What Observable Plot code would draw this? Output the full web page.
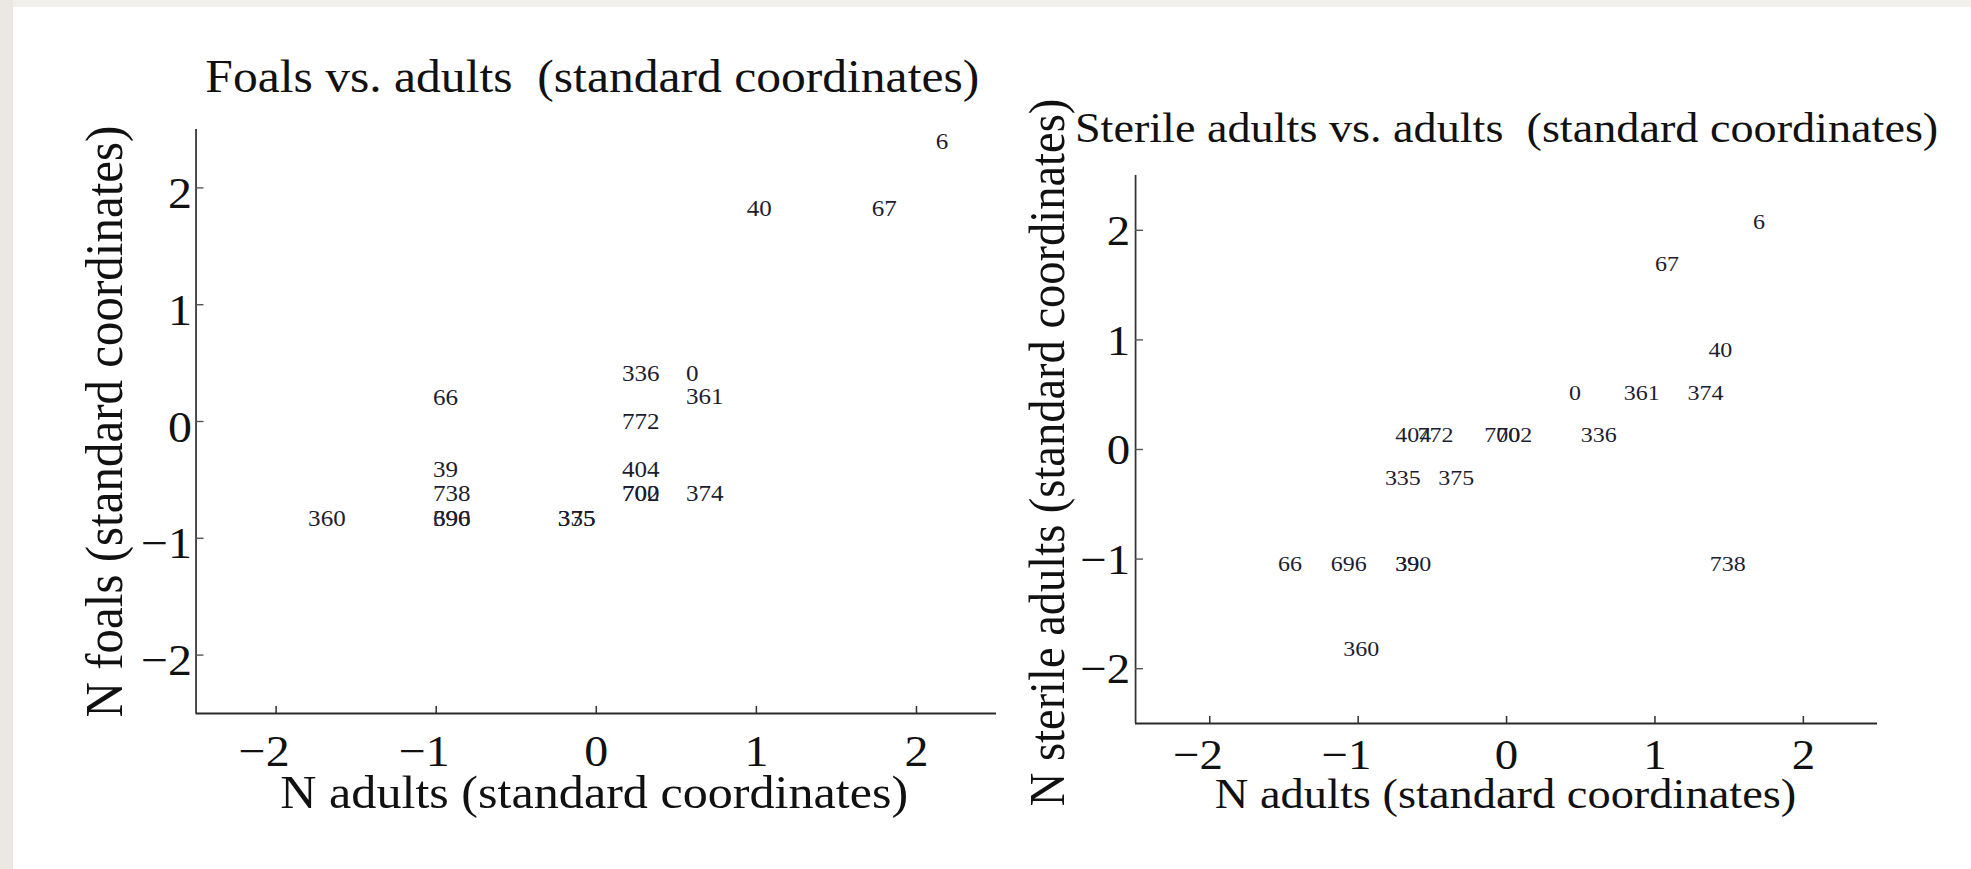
<!DOCTYPE html>
<html>
<head>
<meta charset="utf-8">
<script src="https://cdn.jsdelivr.net/npm/d3@7"></script>
<script src="https://cdn.jsdelivr.net/npm/@observablehq/plot@0.6"></script>
<style>
  html, body { margin: 0; padding: 0; background: #ffffff; width: 1971px; height: 869px; overflow: hidden; }
  #stripTop { position: absolute; left: 0; top: 0; width: 1971px; height: 7px; background: #f1efe9; }
  #stripLeft { position: absolute; left: 0; top: 0; width: 13px; height: 869px; background: #ebe8e3; }
  #stage { position: absolute; left: 0; top: 0; height: 869px; transform-origin: 0 0; }
  #stage svg { position: absolute; top: 0; }
</style>
</head>
<body>
<div id="stripTop"></div>
<div id="stripLeft"></div>
<div id="stage"></div>
<script>
// ---- data ----
const ids = [0, 6, 39, 40, 66, 67, 335, 336, 360, 361, 374, 375, 390, 404, 696, 700, 702, 738, 772];

// Panel 1: foals vs adults (standard coordinates)
const foalsAdultsX = [0.56, 2.12, -1.02, 0.94, -1.02, 1.72, -0.24, 0.16, -1.80, 0.56, 0.56, -0.24, -1.02, 0.16, -1.02, 0.16, 0.16, -1.02, 0.16];
const foalsY       = [0.41, 2.40, -0.41, 1.82, 0.20, 1.82, -0.83, 0.41, -0.83, 0.21, -0.62, -0.83, -0.83, -0.41, -0.83, -0.62, -0.62, -0.62, 0.00];

// Panel 2: sterile adults vs adults (standard coordinates)
const sterileAdultsX = [0.42, 1.66, -0.75, 1.36, -1.54, 1.00, -0.82, 0.50, -1.10, 0.79, 1.22, -0.46, -0.75, -0.75, -1.185, -0.15, -0.07, 1.37, -0.60];
const sterileY       = [0.52, 2.08, -1.04, 0.91, -1.04, 1.69, -0.26, 0.13, -1.82, 0.52, 0.52, -0.26, -1.04, 0.13, -1.04, 0.13, 0.13, -1.04, 0.13];

const axisDomain = [-2.5, 2.5];
const xTicks = [-2, -1, 0, 1, 2];
const yTicks = [-2, -1, 0, 1, 2];

const title1 = "Foals vs. adults \u00a0(standard coordinates)";
const title2 = "Sterile adults vs. adults \u00a0(standard coordinates)";
const xLabel1 = "N adults (standard coordinates)";
const yLabel1 = "N foals (standard coordinates)";
const xLabel2 = "N adults (standard coordinates)";
const yLabel2 = "N sterile adults (standard coordinates)";

// ---- layout ----
const SX = 1.09; // the reference is slightly stretched horizontally
const stage = document.getElementById("stage");
stage.style.width = (1971 / SX) + "px";
stage.style.transform = `scaleX(${SX})`;

const fmtX = d => d < 0 ? "\u2212" + (-d) + "\u2002" : String(d);
const fmtY = d => d < 0 ? "\u2212" + (-d) : String(d);

function panel(cfg) {
  const rows = ids.map((id, i) => ({id, x: cfg.xs[i], y: cfg.ys[i]}));
  return Plot.plot({
    width: cfg.width, height: 869,
    marginLeft: cfg.ml, marginRight: cfg.mr, marginTop: cfg.mt, marginBottom: cfg.mb,
    style: {fontFamily: "'Liberation Serif', 'Times New Roman', serif", background: "transparent", maxWidth: "none", color: "#111"},
    x: {domain: axisDomain},
    y: {domain: axisDomain},
    marks: [
      Plot.ruleY([axisDomain[0]], {stroke: "#2a2a2a", strokeWidth: 2}),
      Plot.ruleX([axisDomain[0]], {stroke: "#333", strokeWidth: 1.6}),
      Plot.axisX({ticks: xTicks, label: null, tickSize: -7, tickFormat: () => "", stroke: "#333", strokeWidth: 1.4}),
      Plot.axisY({ticks: yTicks, label: null, tickSize: -8 / SX, tickFormat: () => "", stroke: "#555", strokeWidth: 1.4}),
      Plot.axisX({ticks: xTicks, label: null, tickSize: 0, tickPadding: cfg.xtp, tickFormat: fmtX, fontSize: cfg.tickFont, fill: "#111"}),
      Plot.axisY({ticks: yTicks, label: null, tickSize: 0, tickPadding: cfg.ytp, dy: cfg.ytdy, tickFormat: fmtY, fontSize: cfg.tickFont, fill: "#111"}),
      Plot.text(rows, {x: "x", y: "y", text: d => String(d.id), textAnchor: "start", fontSize: cfg.ptFont, fill: "#1d1d30"}),
      Plot.text([cfg.title], {text: d => d, frameAnchor: "top", textAnchor: "middle", lineAnchor: "bottom", dy: cfg.titleDy, dx: cfg.titleDx, fontSize: cfg.titleFont, fill: "#111"}),
      Plot.text([cfg.xLabel], {text: d => d, frameAnchor: "bottom", textAnchor: "middle", lineAnchor: "bottom", dy: cfg.xlDy, dx: cfg.xlDx, fontSize: cfg.xlFont, fill: "#111"}),
      Plot.text([cfg.yLabel], {text: d => d, frameAnchor: "left", textAnchor: "middle", lineAnchor: "middle", rotate: -90, dx: cfg.ylDx, dy: cfg.ylDy, fontSize: cfg.ylFont, fill: "#111"})
    ]
  });
}

const p1 = panel({
  xs: foalsAdultsX, ys: foalsY,
  width: 1000 / SX, ml: 195.5 / SX, mr: 4 / SX, mt: 129, mb: 156,
  xtp: 21, ytp: 4 / SX, ytdy: 6, tickFont: 44, ptFont: 23,
  title: title1, titleDy: -37, titleDx: -4 / SX, titleFont: 45.5,
  xLabel: xLabel1, xlDy: 95, xlDx: -2 / SX, xlFont: 46,
  yLabel: yLabel1, ylDx: (104 - 195.5) / SX, ylDy: 0, ylFont: 49
});
p1.style.left = "0px";
stage.appendChild(p1);

const p2 = panel({
  xs: sterileAdultsX, ys: sterileY,
  width: 971 / SX, ml: 135.5 / SX, mr: 93.5 / SX, mt: 175, mb: 146,
  xtp: 14.5, ytp: 5.5 / SX, ytdy: 1, tickFont: 43, ptFont: 22,
  title: title2, titleDy: -33, titleDx: 0, titleFont: 42.4,
  xLabel: xLabel2, xlDy: 85, xlDx: -1 / SX, xlFont: 42.6,
  yLabel: yLabel2, ylDx: (1048 - 1135.5) / SX, ylDy: 3, ylFont: 46.5
});
p2.style.left = (1000 / SX) + "px";
stage.appendChild(p2);
</script>
</body>
</html>
